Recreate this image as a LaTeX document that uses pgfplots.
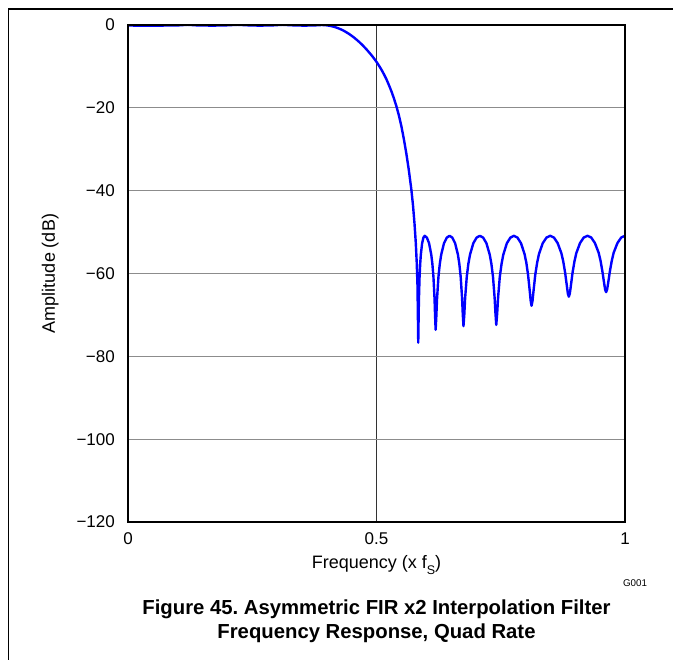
\documentclass[border=0pt]{standalone}
\usepackage{fontspec}
\setmainfont{Liberation Sans}
\usepackage{pgfplots}
\pgfplotsset{compat=1.18}
\definecolor{curveblue}{RGB}{0,0,255}
\frenchspacing
\begin{document}
\begin{tikzpicture}
\useasboundingbox (-128pt,-138pt) rectangle (545pt,522pt);
\begin{axis}[
  at={(0pt,0pt)}, anchor=south west,
  width=497pt, height=497pt, scale only axis,
  xmin=0, xmax=1, ymin=-120, ymax=0,
  xtick={0,0.5,1}, xticklabels={0,0.5,1},
  ytick={-120,-100,-80,-60,-40,-20,0},
  yticklabels={−120,−100,−80,−60,−40,−20,0},
  grid=major,
  major x grid style={black!80, line width=0.8pt},
  major y grid style={black!45, line width=1.1pt},
  axis line style={line width=2pt},
  major tick length=0pt,
  tick label style={font=\fontsize{17}{20}\selectfont, inner sep=0pt},
  xticklabel style={anchor=base, yshift=-23pt},
  yticklabel style={anchor=east, xshift=-13pt},
]
\addplot[curveblue, line width=2.4pt, line join=round] coordinates {
(0,-0.12)(0.02,-0.15)(0.06,-0.15)(0.10,-0.1)(0.12,0.05)(0.14,-0.1)(0.17,-0.15)(0.195,-0.1)
(0.22,0.05)(0.245,-0.1)(0.265,-0.15)(0.29,-0.1)(0.31,0.05)(0.335,-0.1)(0.355,-0.15)(0.375,-0.1)
(0.39,0)(0.40,-0.08)(0.405,-0.17)(0.41,-0.3)(0.415,-0.45)(0.42,-0.65)(0.425,-0.88)(0.43,-1.15)
(0.435,-1.45)(0.44,-1.8)(0.445,-2.18)(0.45,-2.6)(0.455,-3.06)(0.46,-3.55)(0.465,-4.08)(0.47,-4.65)
(0.475,-5.26)(0.48,-5.9)(0.485,-6.6)(0.49,-7.3)(0.495,-8.08)(0.50,-8.9)(0.505,-9.82)(0.51,-10.8)
(0.515,-11.9)(0.52,-13.1)(0.525,-14.5)(0.53,-16.0)(0.535,-17.7)(0.54,-19.6)(0.545,-21.8)(0.55,-24.4)
(0.555,-27.5)(0.56,-31.0)(0.565,-35.0)(0.57,-39.6)(0.5735,-43.6)(0.5765,-48.0)(0.579,-52.5)(0.581,-57.5)
(0.5825,-63)(0.584,-76.7)
(0.58465,-71.46)(0.5853,-66.57)(0.5866,-60.98)(0.5879,-57.70)(0.5892,-55.48)(0.5918,-52.70)(0.5944,-51.34)(0.597,-50.9)
(0.6014,-51.34)(0.6058,-52.70)(0.6102,-55.45)(0.6124,-57.64)(0.6146,-60.86)(0.6168,-66.14)(0.6179,-70.28)(0.619,-73.6)
(0.6204,-70.28)(0.6218,-66.14)(0.6246,-60.86)(0.6274,-57.64)(0.6302,-55.45)(0.6358,-52.70)(0.6414,-51.34)(0.647,-50.9)
(0.6526,-51.34)(0.6582,-52.70)(0.6638,-55.43)(0.6666,-57.62)(0.6694,-60.81)(0.6722,-65.97)(0.6736,-69.83)(0.675,-72.7)
(0.6767,-69.83)(0.6783,-65.97)(0.6816,-60.81)(0.6849,-57.62)(0.6882,-55.43)(0.6948,-52.70)(0.7014,-51.34)(0.708,-50.9)
(0.7146,-51.34)(0.7212,-52.70)(0.7278,-55.43)(0.7311,-57.61)(0.7344,-60.79)(0.7377,-65.91)(0.7394,-69.68)(0.741,-72.4)
(0.7428,-69.68)(0.7446,-65.91)(0.7481,-60.79)(0.7517,-57.61)(0.7552,-55.43)(0.7623,-52.70)(0.7694,-51.34)(0.7765,-50.9)
(0.7836,-51.33)(0.7907,-52.68)(0.7978,-55.26)(0.8014,-57.35)(0.8049,-60.26)(0.8085,-64.38)(0.8103,-66.65)(0.812,-67.8)
(0.8139,-66.65)(0.8158,-64.38)(0.8195,-60.26)(0.8233,-57.35)(0.827,-55.26)(0.8345,-52.68)(0.842,-51.33)(0.8495,-50.9)
(0.857,-51.32)(0.8645,-52.66)(0.872,-55.10)(0.8758,-57.10)(0.8795,-59.78)(0.8833,-63.24)(0.8851,-64.88)(0.887,-65.6)
(0.8889,-64.88)(0.8908,-63.24)(0.8945,-59.78)(0.8983,-57.10)(0.902,-55.10)(0.9095,-52.66)(0.917,-51.32)(0.9245,-50.9)
(0.932,-51.31)(0.9395,-52.65)(0.947,-54.99)(0.9508,-56.92)(0.9545,-59.47)(0.9583,-62.56)(0.9601,-63.92)(0.962,-64.5)
(0.9639,-63.92)(0.9658,-62.56)(0.9696,-59.47)(0.9734,-56.92)(0.9772,-54.99)(0.9848,-52.65)(0.9924,-51.31)(1.0,-50.9)
};
\end{axis}
\draw[line width=2pt] (0pt,0pt) rectangle (497pt,497pt);
\node[rotate=90, anchor=base, font=\fontsize{18}{21}\selectfont, inner sep=0pt] at (-73pt,248.5pt) {Amplitude (dB)};
\node[anchor=base, font=\fontsize{18}{21}\selectfont, inner sep=0pt] at (248.5pt,-47pt) {Frequency (x f\raisebox{-0.3em}{\fontsize{12.5}{14}\selectfont S})};
\node[anchor=base, font=\fontsize{9.8}{11}\selectfont, inner sep=0pt] at (507pt,-65pt) {G001};
\node[anchor=base, font=\fontsize{20.3}{24}\bfseries, inner sep=0pt] at (248.5pt,-93pt) {Figure 45. Asymmetric FIR x2 Interpolation Filter};
\node[anchor=base, font=\fontsize{20.3}{24}\bfseries, inner sep=0pt] at (248.5pt,-117pt) {Frequency Response, Quad Rate};
\draw[line width=1.5pt] (-119.7pt,-138pt) -- (-119.7pt,513pt) -- (545pt,513pt);
\end{tikzpicture}
\end{document}
